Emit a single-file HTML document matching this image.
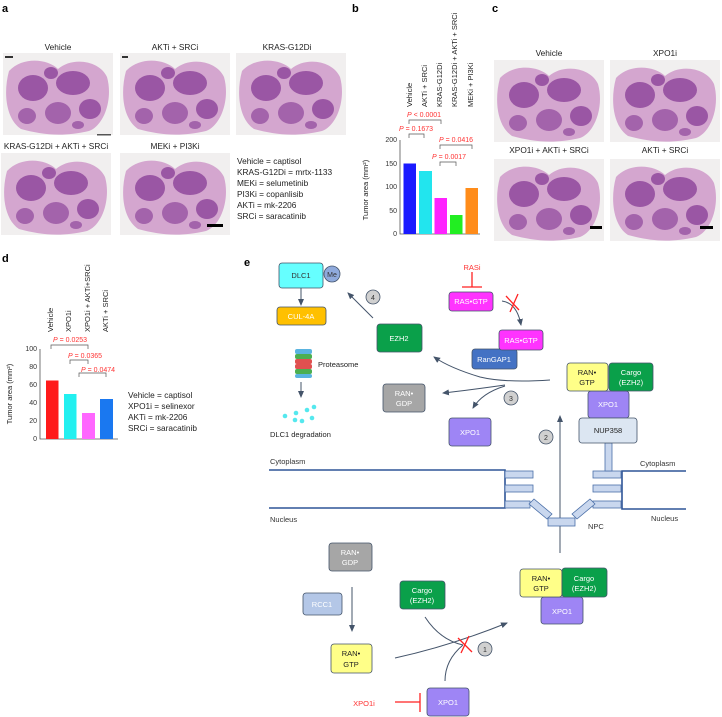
<!DOCTYPE html>
<html><head><meta charset="utf-8"><style>
html,body{margin:0;padding:0;background:#fff}
svg{display:block}
text{font-family:"Liberation Sans",sans-serif}
</style></head><body>
<svg width="722" height="717" viewBox="0 0 722 717" xmlns="http://www.w3.org/2000/svg">
<defs>
<marker id="ar" markerWidth="8" markerHeight="8" refX="6" refY="4" orient="auto" markerUnits="userSpaceOnUse"><path d="M0,1 L7,4 L0,7 Z" fill="#44546a"/></marker>
<g id="lung">
<rect x="0" y="0" width="110" height="82" fill="#f1efef"/>
<path d="M6,18 C20,3 45,6 55,16 C70,3 97,8 104,24 C110,45 102,72 86,78 C60,84 40,82 18,76 C3,66 0,40 6,18Z" fill="#d4a6cf"/>
<ellipse cx="30" cy="35" rx="15" ry="13" fill="#9a56a4"/>
<ellipse cx="70" cy="30" rx="17" ry="12" fill="#9a56a4"/>
<ellipse cx="55" cy="60" rx="13" ry="11" fill="#a363ab"/>
<ellipse cx="87" cy="56" rx="11" ry="10" fill="#9a56a4"/>
<ellipse cx="24" cy="63" rx="9" ry="8" fill="#a363ab"/>
<ellipse cx="48" cy="20" rx="7" ry="6" fill="#9a56a4"/>
<ellipse cx="75" cy="72" rx="6" ry="4" fill="#a363ab"/>
</g>
</defs>

<!-- Panel a -->
<text x="2" y="12" font-size="11" font-weight="bold">a</text>
<g font-size="8.3" text-anchor="middle" fill="#222">
<text x="58" y="50">Vehicle</text><text x="175" y="50">AKTi + SRCi</text><text x="287" y="50">KRAS-G12Di</text>
<text x="56" y="149">KRAS-G12Di + AKTi + SRCi</text><text x="175" y="149">MEKi + PI3Ki</text>
</g>
<use href="#lung" x="3" y="53"/>
<use href="#lung" x="120" y="53"/>
<use href="#lung" x="236" y="53"/>
<use href="#lung" x="1" y="153"/>
<use href="#lung" x="120" y="153"/>
<rect x="5" y="56" width="8" height="2" fill="#333"/><rect x="122" y="56" width="6" height="2" fill="#333"/>
<rect x="97" y="134" width="14" height="1.5" fill="#555"/><rect x="207" y="224" width="16" height="3" fill="#000"/>
<g font-size="8.3" fill="#222">
<text x="237" y="164">Vehicle = captisol</text><text x="237" y="175">KRAS-G12Di = mrtx-1133</text>
<text x="237" y="186">MEKi = selumetinib</text><text x="237" y="197">PI3Ki = copanlisib</text>
<text x="237" y="208">AKTi = mk-2206</text><text x="237" y="219">SRCi = saracatinib</text>
</g>

<!-- Panel b -->
<text x="352" y="12" font-size="11" font-weight="bold">b</text>
<g font-size="7.5" fill="#222">
<text transform="translate(412,107) rotate(-90)">Vehicle</text>
<text transform="translate(427,107) rotate(-90)">AKTi + SRCi</text>
<text transform="translate(442,107) rotate(-90)">KRAS-G12Di</text>
<text transform="translate(457,107) rotate(-90)">KRAS-G12Di + AKTi + SRCi</text>
<text transform="translate(473,107) rotate(-90)">MEKi + PI3Ki</text>
<text transform="translate(368,190) rotate(-90)" text-anchor="middle">Tumor area (mm²)</text>
</g>
<g font-size="7" text-anchor="end" fill="#333">
<text x="397" y="236">0</text><text x="397" y="213">50</text><text x="397" y="189">100</text><text x="397" y="166">150</text><text x="397" y="142">200</text>
</g>
<path d="M400,140 V234 H480" stroke="#555" fill="none" stroke-width="0.8"/>
<rect x="403.5" y="163.5" width="12.5" height="70.5" fill="#1a1aff"/>
<rect x="419" y="171" width="13" height="63" fill="#22e5ee"/>
<rect x="434.5" y="198" width="12.5" height="36" fill="#ff22ff"/>
<rect x="450" y="215" width="12.5" height="19" fill="#22ee22"/>
<rect x="465.5" y="188" width="12.5" height="46" fill="#ff8c1a"/>
<g fill="#ff3333" font-size="7" text-anchor="middle">
<text x="424" y="117"><tspan font-style="italic">P</tspan> &lt; 0.0001</text>
<text x="416" y="131"><tspan font-style="italic">P</tspan> = 0.1673</text>
<text x="456" y="142"><tspan font-style="italic">P</tspan> = 0.0416</text>
<text x="449" y="159"><tspan font-style="italic">P</tspan> = 0.0017</text>
</g>
<g stroke="#555" fill="none" stroke-width="0.7">
<path d="M409,124 V120 H441 V124"/><path d="M409,138 V134 H424 V138"/>
<path d="M440,149 V145 H472 V149"/><path d="M440,166 V162 H456 V166"/>
</g>

<!-- Panel c -->
<text x="492" y="12" font-size="11" font-weight="bold">c</text>
<g font-size="8.3" text-anchor="middle" fill="#222">
<text x="549" y="56">Vehicle</text><text x="665" y="56">XPO1i</text>
<text x="549" y="153">XPO1i + AKTi + SRCi</text><text x="665" y="153">AKTi + SRCi</text>
</g>
<use href="#lung" x="494" y="60"/>
<use href="#lung" x="610" y="60"/>
<use href="#lung" x="494" y="159"/>
<use href="#lung" x="610" y="159"/>
<rect x="590" y="226" width="12" height="3" fill="#000"/><rect x="700" y="226" width="13" height="3" fill="#000"/>

<!-- Panel d -->
<text x="2" y="262" font-size="11" font-weight="bold">d</text>
<g font-size="7.5" fill="#222">
<text transform="translate(53,332) rotate(-90)">Vehicle</text>
<text transform="translate(71,332) rotate(-90)">XPO1i</text>
<text transform="translate(90,332) rotate(-90)">XPO1i + AKTi+SRCi</text>
<text transform="translate(108,332) rotate(-90)">AKTi + SRCi</text>
<text transform="translate(12,394) rotate(-90)" text-anchor="middle">Tumor area (mm²)</text>
</g>
<g font-size="7" text-anchor="end" fill="#333">
<text x="37" y="441">0</text><text x="37" y="423">20</text><text x="37" y="405">40</text><text x="37" y="387">60</text><text x="37" y="369">80</text><text x="37" y="351">100</text>
</g>
<path d="M40,349 V439 H118" stroke="#555" fill="none" stroke-width="0.8"/>
<rect x="46" y="380.5" width="12.5" height="58.5" fill="#ff1a1a"/>
<rect x="64" y="394" width="12.5" height="45" fill="#22f0f0"/>
<rect x="82" y="413" width="13" height="26" fill="#ff66ff"/>
<rect x="100" y="399" width="13" height="40" fill="#1a78f0"/>
<g fill="#ff3333" font-size="7" text-anchor="middle">
<text x="70" y="342"><tspan font-style="italic">P</tspan> = 0.0253</text>
<text x="85" y="358"><tspan font-style="italic">P</tspan> = 0.0365</text>
<text x="98" y="372"><tspan font-style="italic">P</tspan> = 0.0474</text>
</g>
<g stroke="#555" fill="none" stroke-width="0.7">
<path d="M51,349 V345 H88 V349"/><path d="M70,364 V360 H88 V364"/><path d="M79,377 V373 H106 V377"/>
</g>
<g font-size="8.3" fill="#222">
<text x="128" y="398">Vehicle = captisol</text><text x="128" y="409">XPO1i = selinexor</text>
<text x="128" y="420">AKTi = mk-2206</text><text x="128" y="431">SRCi = saracatinib</text>
</g>

<!-- Panel e -->
<text x="244" y="266" font-size="11" font-weight="bold">e</text>
<g stroke="#44546a" stroke-width="1" fill="none">
<line x1="301" y1="288" x2="301" y2="305" marker-end="url(#ar)"/>
<line x1="301" y1="382" x2="301" y2="397" marker-end="url(#ar)"/>
<line x1="373" y1="318" x2="348" y2="293" marker-end="url(#ar)"/>
<path d="M502,301 Q517,303 521,325" marker-end="url(#ar)"/>
<path d="M550,380 Q505,383 480,377 Q450,368 434,357" marker-end="url(#ar)"/>
<path d="M505,385 Q470,390 443,393" marker-end="url(#ar)"/>
<path d="M505,386 Q482,393 473,408" marker-end="url(#ar)"/>
<line x1="560" y1="553" x2="560" y2="416" marker-end="url(#ar)"/>
<line x1="352" y1="587" x2="352" y2="631" marker-end="url(#ar)"/>
<path d="M395,658 Q450,646 507,623" marker-end="url(#ar)"/>
<path d="M425,617 Q440,640 463,645"/>
<path d="M445,681 Q445,660 463,645"/>
</g>
<g stroke="#2f5597" stroke-width="1.6" fill="none">
<path d="M269,470 H505 V508 H269"/>
<path d="M686,471 H622 V509 H686"/>
</g>
<g fill="#c9d7ee" stroke="#4a6fa8" stroke-width="0.8">
<rect x="505" y="471" width="28" height="7"/><rect x="505" y="485" width="28" height="7"/><rect x="505" y="501" width="25" height="7"/>
<rect x="593" y="471" width="28" height="7"/><rect x="593" y="485" width="28" height="7"/><rect x="593" y="501" width="28" height="7"/>
<polygon points="529,504 534,499 552,514 547,519"/>
<polygon points="595,504 590,499 572,514 577,519"/>
<rect x="548" y="518" width="27" height="8"/>
<rect x="605" y="443" width="7" height="28"/>
</g>
<g font-size="7.5" fill="#333">
<text x="270" y="464">Cytoplasm</text><text x="640" y="466">Cytoplasm</text>
<text x="270" y="522">Nucleus</text><text x="651" y="521">Nucleus</text><text x="588" y="529">NPC</text>
</g>
<g stroke="#44546a" stroke-width="0.8">
<rect x="279" y="263" width="44" height="25" rx="3" fill="#66ffff"/>
<circle cx="332" cy="274" r="8" fill="#8faadc"/>
<rect x="277" y="307" width="49" height="18" rx="3" fill="#ffc000"/>
<rect x="377" y="324" width="45" height="28" rx="3" fill="#0aa04a"/>
<rect x="449" y="292" width="44" height="19" rx="3" fill="#ff33ff"/>
<rect x="472" y="349" width="45" height="20" rx="3" fill="#4472c4"/>
<rect x="499" y="330" width="44" height="20" rx="3" fill="#ff33ff"/>
<rect x="383" y="384" width="42" height="28" rx="3" fill="#a6a6a6"/>
<rect x="449" y="418" width="42" height="28" rx="3" fill="#9e85f5"/>
<rect x="588" y="391" width="41" height="27" rx="3" fill="#9e85f5"/>
<rect x="567" y="363" width="41" height="28" rx="3" fill="#ffff88"/>
<rect x="609" y="363" width="44" height="28" rx="3" fill="#0aa04a"/>
<rect x="579" y="418" width="58" height="25" rx="3" fill="#dce6f2"/>
<rect x="329" y="543" width="43" height="28" rx="3" fill="#a6a6a6"/>
<rect x="303" y="593" width="39" height="22" rx="3" fill="#b4c7e7"/>
<rect x="331" y="644" width="41" height="29" rx="3" fill="#ffff88"/>
<rect x="400" y="581" width="45" height="28" rx="3" fill="#0aa04a"/>
<rect x="427" y="688" width="42" height="28" rx="3" fill="#9e85f5"/>
<rect x="541" y="597" width="42" height="27" rx="3" fill="#9e85f5"/>
<rect x="520" y="569" width="42" height="28" rx="3" fill="#ffff88"/>
<rect x="562" y="568" width="45" height="29" rx="3" fill="#0aa04a"/>
<circle cx="373" cy="297" r="7" fill="#d0d0d0"/>
<circle cx="511" cy="398" r="7" fill="#d0d0d0"/>
<circle cx="546" cy="437" r="7" fill="#d0d0d0"/>
<circle cx="485" cy="649" r="7" fill="#d0d0d0"/>
</g>
<g font-size="7.5" text-anchor="middle">
<text x="301" y="278" fill="#333">DLC1</text><text x="332" y="277" fill="#333" font-size="7">Me</text>
<text x="301" y="319" fill="#fff">CUL-4A</text>
<text x="399" y="341" fill="#fff">EZH2</text>
<text x="471" y="304" fill="#fff">RAS•GTP</text>
<text x="521" y="343" fill="#fff">RAS•GTP</text>
<text x="494" y="362" fill="#fff">RanGAP1</text>
<text x="404" y="396" fill="#fff">RAN•</text><text x="404" y="406" fill="#fff">GDP</text>
<text x="470" y="435" fill="#fff">XPO1</text>
<text x="587" y="375" fill="#222">RAN•</text><text x="587" y="385" fill="#222">GTP</text>
<text x="631" y="375" fill="#fff">Cargo</text><text x="631" y="385" fill="#fff">(EZH2)</text>
<text x="608" y="407" fill="#fff">XPO1</text>
<text x="608" y="433" fill="#222">NUP358</text>
<text x="350" y="555" fill="#fff">RAN•</text><text x="350" y="565" fill="#fff">GDP</text>
<text x="322" y="607" fill="#fff">RCC1</text>
<text x="351" y="656" fill="#222">RAN•</text><text x="351" y="667" fill="#222">GTP</text>
<text x="422" y="593" fill="#fff">Cargo</text><text x="422" y="603" fill="#fff">(EZH2)</text>
<text x="448" y="705" fill="#fff">XPO1</text>
<text x="541" y="581" fill="#222">RAN•</text><text x="541" y="591" fill="#222">GTP</text>
<text x="584" y="581" fill="#fff">Cargo</text><text x="584" y="591" fill="#fff">(EZH2)</text>
<text x="562" y="614" fill="#fff">XPO1</text>
<g font-size="7" fill="#333"><text x="373" y="300">4</text><text x="511" y="401">3</text><text x="546" y="440">2</text><text x="485" y="652">1</text></g>
<text x="472" y="270" fill="#ff3333">RASi</text>
</g>
<text x="318" y="367" font-size="7.5" fill="#222">Proteasome</text>
<text x="270" y="437" font-size="7.5" fill="#222">DLC1 degradation</text>
<text x="364" y="706" font-size="7.5" fill="#ff3333" text-anchor="middle">XPO1i</text>
<g stroke="#ff2222" stroke-width="1.3" fill="none">
<path d="M472,272 V287 M462,287 H482"/>
<path d="M395,702 H420 M420,693 V712"/>
<path d="M506,296 L519,310 M510,312 L518,294"/>
<path d="M458,638 L472,652 M461,653 L469,636"/>
</g>
<g>
<rect x="295" y="349" width="17" height="5" rx="2" fill="#5ab4e0"/>
<rect x="295" y="354" width="17" height="5" rx="2" fill="#4caf50"/>
<rect x="295" y="359" width="17" height="5" rx="2" fill="#e05050"/>
<rect x="295" y="364" width="17" height="5" rx="2" fill="#e05050"/>
<rect x="295" y="369" width="17" height="5" rx="2" fill="#4caf50"/>
<rect x="295" y="374" width="17" height="4" rx="2" fill="#5ab4e0"/>
</g>
<g fill="#55e8ee">
<circle cx="296" cy="413" r="2.3"/><circle cx="307" cy="410" r="2.3"/><circle cx="314" cy="407" r="2.3"/>
<circle cx="285" cy="416" r="2.3"/><circle cx="295" cy="420" r="2.3"/><circle cx="302" cy="421" r="2.3"/><circle cx="312" cy="418" r="2.3"/>
</g>
</svg>
</body></html>
